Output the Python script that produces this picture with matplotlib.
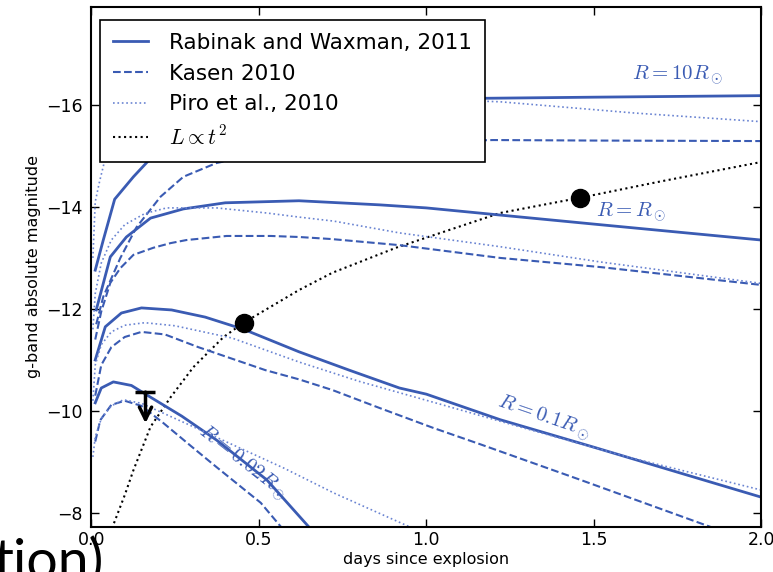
import matplotlib
matplotlib.use("Agg")
import matplotlib.pyplot as plt

# Rabinak & Waxman 2011 (solid)
rw_t_10 = [0.012, 0.036, 0.07, 0.126, 0.19, 0.3, 0.5, 0.75, 1.0, 1.2, 1.5, 2.0]
rw_m_10 = [-12.76, -13.35, -14.15, -14.59, -15.04, -15.5, -15.85, -16.05, -16.12, -16.13, -16.15, -16.18]
rw_t_1 = [0.015, 0.057, 0.105, 0.177, 0.275, 0.4, 0.62, 0.86, 1.0, 1.22, 1.52, 2.0]
rw_m_1 = [-11.98, -13.02, -13.41, -13.78, -13.96, -14.08, -14.12, -14.04, -13.98, -13.84, -13.65, -13.35]
rw_t_01 = [0.012, 0.042, 0.09, 0.15, 0.24, 0.34, 0.455, 0.62, 0.77, 0.92, 1.0, 1.22, 1.5, 1.76, 2.0]
rw_m_01 = [-11.0, -11.65, -11.92, -12.02, -11.98, -11.84, -11.6, -11.16, -10.8, -10.45, -10.33, -9.83, -9.29, -8.78, -8.31]
rw_t_002 = [0.012, 0.03, 0.066, 0.12, 0.177, 0.27, 0.374, 0.524, 0.66]
rw_m_002 = [-10.16, -10.45, -10.57, -10.5, -10.27, -9.9, -9.43, -8.65, -7.65]

# Kasen 2010 (dashed)
ks_t_10 = [0.015, 0.036, 0.087, 0.135, 0.207, 0.275, 0.374, 0.506, 0.7, 1.0, 1.2, 1.5, 2.0]
ks_m_10 = [-11.7, -12.24, -13.0, -13.6, -14.2, -14.59, -14.86, -15.04, -15.2, -15.28, -15.31, -15.3, -15.29]
ks_t_1 = [0.012, 0.03, 0.057, 0.087, 0.126, 0.186, 0.237, 0.284, 0.344, 0.404, 0.536, 0.62, 0.716, 0.92, 1.22, 1.52, 2.0]
ks_m_1 = [-11.4, -11.95, -12.51, -12.8, -13.06, -13.2, -13.29, -13.35, -13.39, -13.43, -13.43, -13.41, -13.37, -13.25, -13.0, -12.82, -12.47]
ks_t_01 = [0.012, 0.03, 0.06, 0.1, 0.15, 0.22, 0.32, 0.52, 0.62, 0.72, 0.86, 1.02, 1.16, 1.46, 1.86]
ks_m_01 = [-10.3, -10.9, -11.25, -11.45, -11.55, -11.5, -11.25, -10.8, -10.62, -10.41, -10.06, -9.67, -9.35, -8.65, -7.7]
ks_t_002 = [0.012, 0.027, 0.06, 0.1, 0.15, 0.216, 0.3, 0.374, 0.506, 0.57]
ks_m_002 = [-9.4, -9.82, -10.12, -10.2, -10.1, -9.76, -9.3, -8.9, -8.2, -7.7]

# Piro et al. 2010 (dotted)
pr_t_10 = [0.005, 0.012, 0.025, 0.04, 0.07, 0.12, 0.2, 0.35, 0.6, 0.9, 1.22, 1.62, 2.0]
pr_m_10 = [-13.0, -14.1, -14.5, -14.9, -15.3, -15.6, -15.85, -16.05, -16.15, -16.13, -16.06, -15.84, -15.67]
pr_t_1 = [0.005, 0.012, 0.03, 0.06, 0.1, 0.16, 0.225, 0.374, 0.524, 0.62, 0.725, 0.92, 1.22, 1.52, 2.0]
pr_m_1 = [-11.6, -12.3, -12.9, -13.35, -13.65, -13.87, -13.98, -13.98, -13.88, -13.8, -13.72, -13.49, -13.22, -12.92, -12.5]
pr_t_01 = [0.005, 0.012, 0.03, 0.06, 0.1, 0.16, 0.25, 0.42, 0.62, 0.8, 1.07, 1.3, 1.6, 2.0]
pr_m_01 = [-10.2, -10.9, -11.3, -11.55, -11.68, -11.73, -11.67, -11.43, -10.96, -10.58, -10.08, -9.65, -9.1, -8.45]
pr_t_002 = [0.005, 0.012, 0.03, 0.06, 0.096, 0.15, 0.305, 0.425, 0.575, 0.725, 0.95]
pr_m_002 = [-9.1, -9.49, -9.85, -10.1, -10.22, -10.15, -9.69, -9.33, -8.88, -8.39, -7.73]

# L ~ t^2 curve and detections
lt_t = [0.062, 0.1, 0.126, 0.177, 0.237, 0.305, 0.395, 0.455, 0.62, 0.72, 0.91, 1.22, 1.46, 1.7, 2.0]
lt_m = [-7.7, -8.35, -8.84, -9.69, -10.27, -10.86, -11.45, -11.73, -12.37, -12.71, -13.2, -13.88, -14.18, -14.5, -14.88]
det_t = [0.455, 1.46]
det_m = [-11.73, -14.18]
lim_t = 0.162
lim_m = -10.37
lim_tip = -9.76

BLUE = "#3a5bb3"
LBLUE = "#6a84d2"

plt.rcParams["mathtext.fontset"] = "cm"

fig = plt.figure(figsize=(7.73, 5.72), dpi=100)
ax = fig.add_axes([0.118, 0.079, 0.867, 0.909])

ax.plot(rw_t_10, rw_m_10, "-", color=BLUE, lw=2, label="Rabinak and Waxman, 2011")
ax.plot(ks_t_10, ks_m_10, "--", color=BLUE, lw=1.5, label="Kasen 2010")
ax.plot(pr_t_10, pr_m_10, ":", color=LBLUE, lw=1.2, label="Piro et al., 2010")
ax.plot(lt_t, lt_m, ":", color="black", lw=1.5, label=r"$L \propto t^2$")

for t, m in [(rw_t_1, rw_m_1), (rw_t_01, rw_m_01), (rw_t_002, rw_m_002)]:
    ax.plot(t, m, "-", color=BLUE, lw=2)
for t, m in [(ks_t_1, ks_m_1), (ks_t_01, ks_m_01), (ks_t_002, ks_m_002)]:
    ax.plot(t, m, "--", color=BLUE, lw=1.5)
for t, m in [(pr_t_1, pr_m_1), (pr_t_01, pr_m_01), (pr_t_002, pr_m_002)]:
    ax.plot(t, m, ":", color=LBLUE, lw=1.2)

ax.plot(det_t, det_m, "o", color="black", ms=13, zorder=5)
ax.plot([lim_t], [lim_m], "_", color="black", ms=14, mew=2.5, zorder=5)
ax.annotate("", xy=(lim_t, lim_tip), xytext=(lim_t, lim_m),
            arrowprops=dict(arrowstyle="->", lw=2.5, color="black",
                            mutation_scale=22, shrinkA=0, shrinkB=0), zorder=5)

ax.text(1.75, -16.59, r"$R=10R_\odot$", color=BLUE, fontsize=15, ha="center", va="center")
ax.text(1.61, -13.9, r"$R=R_\odot$", color=BLUE, fontsize=15, ha="center", va="center")
ax.text(1.35, -9.88, r"$R=0.1R_\odot$", color=BLUE, fontsize=15, ha="center", va="center",
        rotation=-19)
ax.text(0.45, -8.98, r"$R=0.02R_\odot$", color=BLUE, fontsize=15, ha="center", va="center",
        rotation=-38)

ax.set_xlim(0, 2.0)
ax.set_ylim(-7.73, -17.92)
ax.set_xticks([0.0, 0.5, 1.0, 1.5, 2.0])
ax.set_yticks([-8, -10, -12, -14, -16])
ax.tick_params(direction="in", top=True, right=True, length=6, width=1, labelsize=12.5)
ax.tick_params(axis="x", pad=3)
ax.tick_params(axis="y", pad=6)
for s in ax.spines.values():
    s.set_linewidth(1.5)
ax.set_xlabel("days since explosion", fontsize=11.5, labelpad=2)
ax.set_ylabel("g-band absolute magnitude", fontsize=11.5)

leg = ax.legend(loc="upper left", bbox_to_anchor=(0.0134, 0.975), borderaxespad=0,
                fontsize=15.5, fancybox=False, framealpha=1, edgecolor="black",
                handlelength=1.6, handletextpad=1.0, borderpad=0.6)
leg.get_frame().set_linewidth(1.2)

# fragment of the slide text below the chart
fig.text(-0.008, -0.012, "tion)", fontsize=40, family="Lato", color="black")

fig.savefig("out.png", dpi=100)
